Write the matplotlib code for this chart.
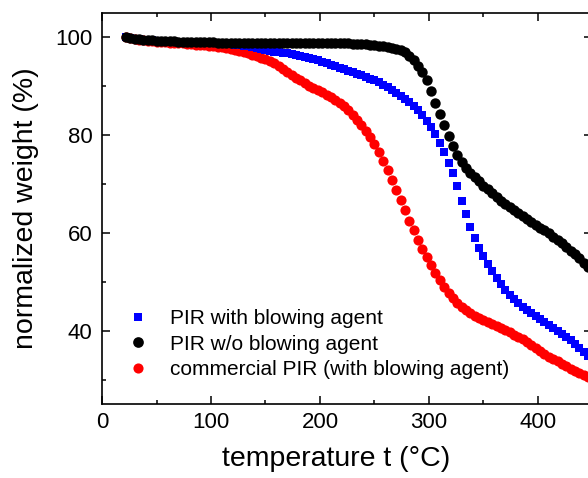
import matplotlib
matplotlib.use("Agg")
import matplotlib.pyplot as plt
from matplotlib.ticker import MultipleLocator

plt.rcParams['font.family'] = ['Liberation Sans', 'DejaVu Sans']

# temperature grid (°C), shared by all three TGA runs
temperature = [22, 26, 30, 34, 38, 42, 46, 50, 54, 58, 62, 66, 70, 74, 78, 82, 86, 90,
               94, 98, 102, 106, 110, 114, 118, 122, 126, 130, 134, 138, 142, 146, 150,
               154, 158, 162, 166, 170, 174, 178, 182, 186, 190, 194, 198, 202, 206, 210,
               214, 218, 222, 226, 230, 234, 238, 242, 246, 250, 254, 258, 262, 266, 270,
               274, 278, 282, 286, 290, 294, 298, 302, 306, 310, 314, 318, 322, 326, 330,
               334, 338, 342, 346, 350, 354, 358, 362, 366, 370, 374, 378, 382, 386, 390,
               394, 398, 402, 406, 410, 414, 418, 422, 426, 430, 434, 438, 442, 446]

# normalized weight (%)
pir_with_ba = [100.0, 99.85, 99.7, 99.6, 99.5, 99.45, 99.4, 99.35, 99.3, 99.25, 99.2, 99.15,
               99.1, 99.1, 99.05, 99.0, 99.0, 98.95, 98.9, 98.9, 98.85, 98.8, 98.75, 98.7,
               98.6, 98.5, 98.4, 98.3, 98.2, 98.05, 97.9, 97.7, 97.5, 97.3, 97.1, 97.0,
               96.85, 96.75, 96.6, 96.45, 96.3, 96.05, 95.8, 95.55, 95.3, 95.0, 94.7, 94.4,
               94.1, 93.8, 93.5, 93.2, 92.9, 92.6, 92.25, 91.9, 91.55, 91.2, 90.8, 90.3,
               89.8, 89.2, 88.6, 88.1, 87.5, 86.8, 86.0, 85.1, 84.1, 82.9, 81.6, 80.2,
               78.5, 76.6, 74.4, 72.2, 69.6, 66.5, 63.8, 61.2, 58.9, 57.0, 55.3, 53.7,
               52.2, 50.8, 49.5, 48.4, 47.4, 46.5, 45.7, 44.9, 44.2, 43.6, 43.0, 42.4,
               41.8, 41.2, 40.6, 40.0, 39.4, 38.7, 38.0, 37.2, 36.4, 35.6, 34.8]

pir_without_ba = [100.0, 99.85, 99.7, 99.6, 99.5, 99.45, 99.4, 99.35, 99.3, 99.25, 99.2, 99.2,
                  99.15, 99.1, 99.1, 99.05, 99.05, 99.0, 99.0, 99.0, 99.0, 98.95, 98.95, 98.95,
                  98.9, 98.9, 98.9, 98.9, 98.9, 98.9, 98.9, 98.9, 98.9, 98.9, 98.9, 98.9,
                  98.9, 98.9, 98.9, 98.9, 98.9, 98.9, 98.9, 98.9, 98.9, 98.85, 98.85, 98.85,
                  98.8, 98.8, 98.8, 98.8, 98.75, 98.7, 98.65, 98.6, 98.5, 98.4, 98.3, 98.2,
                  98.05, 97.9, 97.7, 97.4, 96.95, 96.3, 95.4, 94.2, 92.9, 91.2, 89.0, 86.6,
                  84.3, 82.1, 79.9, 77.8, 75.9, 74.5, 73.3, 72.3, 71.4, 70.6, 69.7, 68.9,
                  68.1, 67.3, 66.6, 65.9, 65.3, 64.7, 64.1, 63.5, 62.9, 62.3, 61.7, 61.1,
                  60.5, 59.9, 59.2, 58.6, 57.9, 57.2, 56.4, 55.6, 54.8, 53.9, 53.0]

commercial_pir = [100.0, 99.8, 99.65, 99.5, 99.4, 99.3, 99.2, 99.15, 99.1, 99.0, 98.95, 98.9,
                  98.85, 98.8, 98.7, 98.65, 98.55, 98.5, 98.4, 98.3, 98.2, 98.1, 97.95, 97.8,
                  97.65, 97.5, 97.3, 97.05, 96.8, 96.5, 96.2, 95.85, 95.5, 95.1, 94.7, 94.2,
                  93.6, 93.0, 92.4, 91.8, 91.2, 90.6, 90.1, 89.6, 89.2, 88.8, 88.3, 87.8,
                  87.2, 86.6, 85.9, 85.1, 84.2, 83.2, 82.1, 80.9, 79.6, 78.2, 76.6, 74.8,
                  72.9, 70.9, 68.8, 66.7, 64.6, 62.5, 60.5, 58.6, 56.8, 55.1, 53.5, 51.9,
                  50.4, 49.0, 47.8, 46.7, 45.7, 44.9, 44.2, 43.6, 43.1, 42.6, 42.1, 41.7,
                  41.3, 40.9, 40.5, 40.1, 39.7, 39.2, 38.7, 38.2, 37.7, 37.1, 36.5, 35.9,
                  35.3, 34.7, 34.2, 33.7, 33.2, 32.7, 32.2, 31.7, 31.3, 30.9, 30.5]

labels = ['PIR with blowing agent', 'PIR w/o blowing agent',
          'commercial PIR (with blowing agent)']

fig = plt.figure(figsize=(5.88, 4.78), dpi=100)
# right spine sits just past the image edge, like the cropped original
ax = fig.add_axes([0.1735, 0.1548, 0.834, 0.818])

ax.plot(temperature, commercial_pir, 'o', color='#ff0000', ms=7.3, mew=0,
        label=labels[2], zorder=2)
ax.plot(temperature, pir_with_ba, 's', color='#0000ff', ms=5.9, mew=0,
        label=labels[0], zorder=3)
ax.plot(temperature, pir_without_ba, 'o', color='black', ms=7.5, mew=0,
        label=labels[1], zorder=4)

ax.set_xlim(0, 450)
ax.set_ylim(25, 105)
ax.xaxis.set_major_locator(MultipleLocator(100))
ax.xaxis.set_minor_locator(MultipleLocator(50))
ax.yaxis.set_major_locator(MultipleLocator(20))
ax.yaxis.set_minor_locator(MultipleLocator(10))
ax.tick_params(which='both', direction='in', top=True, right=True,
               labelsize=16, width=1.1)
ax.tick_params(which='major', length=6)
ax.tick_params(which='minor', length=3)
ax.tick_params(axis='x', pad=6)
ax.tick_params(axis='y', pad=7)
for s in ax.spines.values():
    s.set_linewidth(1.2)

ax.set_xlabel('temperature t (°C)', fontsize=20.5)
ax.set_ylabel('normalized weight (%)', fontsize=20.5)
ax.xaxis.set_label_coords(0.477, -0.108)
ax.yaxis.set_label_coords(-0.128, 0.5)

handles, lbls = ax.get_legend_handles_labels()
order = [1, 2, 0]
leg = ax.legend([handles[i] for i in order], [lbls[i] for i in order],
                loc='upper left', bbox_to_anchor=(0.052, 0.242), frameon=False,
                fontsize=15, handlelength=1, handletextpad=1.04, borderpad=0,
                borderaxespad=0, labelspacing=0.3, numpoints=1)
for h, size in zip(leg.legend_handles, [6.3, 7.7, 7.3]):
    h.set_markersize(size)

fig.savefig('out.png', dpi=100)
